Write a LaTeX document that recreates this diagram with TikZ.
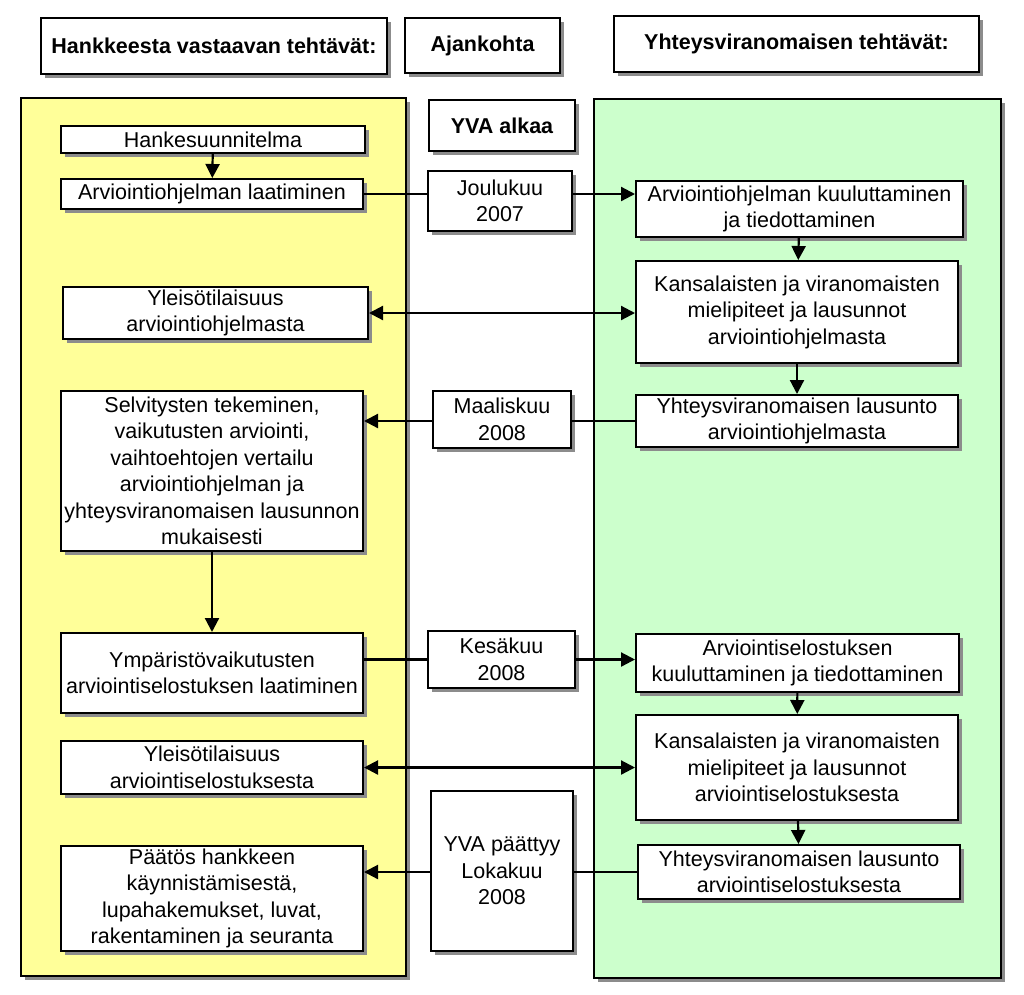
\documentclass[tikz,border=0pt]{standalone}
\usepackage{fontspec}
\setmainfont{Liberation Sans}
\usetikzlibrary{shadows,arrows.meta}
\tikzset{
  shad/.style={drop shadow={shadow xshift=4pt, shadow yshift=-4pt, fill=black!45, opacity=1}},
  box/.style={draw=black, line width=2pt, fill=white, inner sep=0pt, align=center,
    anchor=north west, font=\fontsize{21.5}{26.5}\selectfont, shad},
  head/.style={box, font=\fontsize{21.5}{26.5}\selectfont\bfseries},
  panel/.style={draw=black, line width=2pt, inner sep=0pt, anchor=north west, shad},
  conn/.style={line width=2.2pt},
  arr/.style={conn, -{Triangle[length=14pt,width=14pt]}},
  darr/.style={conn, {Triangle[length=14pt,width=14pt]}-{Triangle[length=14pt,width=14pt]}},
}
\definecolor{panelyellow}{RGB}{255,255,153}
\definecolor{panelgreen}{RGB}{204,255,204}
\begin{document}
\begin{tikzpicture}[x=1pt,y=-1pt]
\useasboundingbox (0,0) rectangle (1024,994);
% headers
\node[head, minimum width=346pt, minimum height=56pt] (h1) at (40,17) {Hankkeesta vastaavan tehtävät:};
\node[head, minimum width=155pt, minimum height=55pt] (h2) at (404,17) {Ajankohta};
\node[head, minimum width=365pt, minimum height=56pt] (h3) at (613,15) {Yhteysviranomaisen tehtävät:};
% panels
\node[panel, fill=panelyellow, minimum width=385pt, minimum height=878pt] (py) at (20,97) {};
\node[panel, fill=panelgreen, minimum width=407pt, minimum height=879pt] (pg) at (593,98) {};
% middle column
\node[head, minimum width=146pt, minimum height=51pt] (yva) at (428,99) {YVA alkaa};
\node[box, minimum width=144pt, minimum height=60pt] (jou) at (427,170) {Joulukuu\\2007};
\node[box, minimum width=138pt, minimum height=57pt] (maa) at (432,390) {Maaliskuu\\2008};
\node[box, minimum width=147pt, minimum height=57pt] (kes) at (427,630) {Kesäkuu\\2008};
\node[box, minimum width=142pt, minimum height=160pt] (pat) at (430,790) {YVA päättyy\\Lokakuu\\2008};
% left column
\node[box, minimum width=304pt, minimum height=27pt] (hs) at (60,125) {Hankesuunnitelma};
\node[box, minimum width=302pt, minimum height=30pt] (al) at (60,178) {Arviointiohjelman laatiminen};
\node[box, minimum width=305pt, minimum height=52pt] (yl1) at (62,286) {Yleisötilaisuus\\arviointiohjelmasta};
\node[box, minimum width=302pt, minimum height=160pt] (sel) at (60,390) {Selvitysten tekeminen,\\vaikutusten arviointi,\\vaihtoehtojen vertailu\\arviointiohjelman ja\\yhteysviranomaisen lausunnon\\mukaisesti};
\node[box, minimum width=302pt, minimum height=80pt] (ymp) at (60,632) {Ympäristövaikutusten\\arviointiselostuksen laatiminen};
\node[box, minimum width=302pt, minimum height=53pt] (yl2) at (60,740) {Yleisötilaisuus\\arviointiselostuksesta};
\node[box, minimum width=302pt, minimum height=105pt] (pts) at (60,845) {Päätös hankkeen\\käynnistämisestä,\\lupahakemukset, luvat,\\rakentaminen ja seuranta};
% right column
\node[box, minimum width=327pt, minimum height=56pt] (kuu) at (635,180) {Arviointiohjelman kuuluttaminen\\ja tiedottaminen};
\node[box, minimum width=322pt, minimum height=102pt] (ka1) at (635,260) {Kansalaisten ja viranomaisten\\mielipiteet ja lausunnot\\arviointiohjelmasta};
\node[box, minimum width=322pt, minimum height=52pt] (yh1) at (635,394) {Yhteysviranomaisen lausunto\\arviointiohjelmasta};
\node[box, minimum width=323pt, minimum height=58pt] (ars) at (635,633) {Arviointiselostuksen\\kuuluttaminen ja tiedottaminen};
\node[box, minimum width=322pt, minimum height=105pt] (ka2) at (635,714) {Kansalaisten ja viranomaisten\\mielipiteet ja lausunnot\\arviointiselostuksesta};
\node[box, minimum width=322pt, minimum height=54pt] (yh2) at (637,844) {Yhteysviranomaisen lausunto\\arviointiselostuksesta};
% connectors
\draw[arr] (hs) -- (al);
\draw[conn] (al.east) -- (al.east -| jou.west);
\draw[arr] (jou.east |- al.east) -- (kuu.west |- al.east);
\draw[arr] (kuu) -- (ka1);
\draw[darr] (yl1.east) -- (yl1.east -| ka1.west);
\draw[arr] (ka1) -- (yh1);
\draw[conn] (yh1.west) -- (yh1.west -| maa.east);
\draw[arr] (maa.west |- yh1.west) -- (sel.east |- yh1.west);
\draw[arr] (sel) -- (ymp);
\draw[conn] (ymp.east |- kes.west) -- (kes.west);
\draw[arr] (kes.east) -- (kes.east -| ars.west);
\draw[arr] (ars) -- (ka2);
\draw[darr] (yl2.east) -- (yl2.east -| ka2.west);
\draw[arr] (ka2) -- (yh2);
\draw[conn] (yh2.west) -- (yh2.west -| pat.east);
\draw[arr] (pat.west |- yh2.west) -- (pts.east |- yh2.west);
\end{tikzpicture}
\end{document}
